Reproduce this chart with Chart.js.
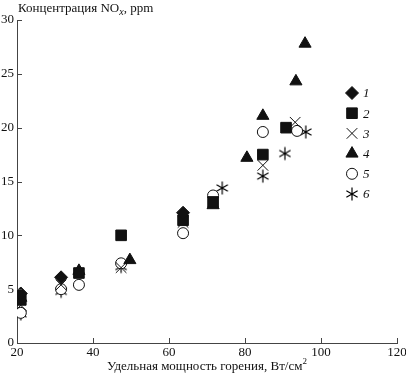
<!DOCTYPE html>
<html>
<head>
<meta charset="utf-8">
<script src="https://cdn.jsdelivr.net/npm/chart.js@4/dist/chart.umd.min.js"></script>
<style>
body{margin:0;background:#fff}
</style>
</head>
<body>
<canvas id="chart" width="406" height="375"></canvas>
<script>
// values
const seriesNames = ['1', '2', '3', '4', '5', '6'];

const s1x = [21, 31.6, 63.7];
const s1y = [4.6, 6.1, 12.1];

const s2x = [21, 36.3, 47.4, 63.7, 71.6, 84.7, 90.8];
const s2y = [4.0, 6.5, 10.0, 11.4, 13.1, 17.5, 20.0];

const s3x = [21, 31.6, 47.4, 63.7, 71.6, 84.7, 93.2];
const s3y = [3.5, 5.4, 7.0, 11.2, 13.0, 16.5, 20.5];

const s4x = [21, 36.3, 49.7, 71.6, 80.5, 84.7, 93.4, 95.8];
const s4y = [4.2, 6.7, 7.7, 12.8, 17.2, 21.1, 24.3, 27.8];

const s5x = [21, 31.6, 36.3, 47.4, 63.7, 71.6, 84.7, 93.7];
const s5y = [2.8, 5.0, 5.4, 7.4, 10.2, 13.7, 19.6, 19.7];

const s6x = [21, 31.6, 47.4, 74.0, 84.7, 90.5, 96.0];
const s6y = [2.7, 4.8, 7.1, 14.4, 15.5, 17.6, 19.6];

const xTicks = [20, 40, 60, 80, 100, 120];
const yTicks = [0, 5, 10, 15, 20, 25, 30];

const serif = "'Liberation Serif', 'DejaVu Serif', serif";
const ink = '#111';

function pts(xs, ys) {
  let out = [];
  for (let i = 0; i < xs.length; i++) out.push({x: xs[i], y: ys[i]});
  return out;
}

// six-ray asterisk marker
function makeStar() {
  let c = document.createElement('canvas');
  c.width = 16; c.height = 16;
  let g = c.getContext('2d');
  g.strokeStyle = '#000';
  g.lineWidth = 1.2;
  g.beginPath();
  for (let a of [90, 30, 150]) {
    let r = a * Math.PI / 180;
    let dx = Math.cos(r) * 6.5, dy = Math.sin(r) * 6.5;
    g.moveTo(8 - dx, 8 - dy);
    g.lineTo(8 + dx, 8 + dy);
  }
  g.stroke();
  return c;
}
const starImg = makeStar();

const styles = [
  {pointStyle: 'rectRot', radius: 6.5, bg: ink, border: ink},
  {pointStyle: 'rect', radius: 7.5, bg: ink, border: ink},
  {pointStyle: 'crossRot', radius: 7.5, bg: ink, border: ink},
  {pointStyle: 'triangle', radius: 7, bg: ink, border: ink},
  {pointStyle: 'circle', radius: 5.5, bg: '#fff', border: ink},
  {pointStyle: starImg, radius: 7, bg: ink, border: ink}
];

const allData = [pts(s1x, s1y), pts(s2x, s2y), pts(s3x, s3y), pts(s4x, s4y), pts(s5x, s5y), pts(s6x, s6y)];

let datasets = [];
for (let i = 0; i < 6; i++) {
  datasets.push({
    label: seriesNames[i],
    data: allData[i],
    pointStyle: styles[i].pointStyle,
    pointRadius: styles[i].radius,
    pointHoverRadius: styles[i].radius,
    backgroundColor: styles[i].bg,
    borderColor: styles[i].border,
    borderWidth: 1,
    showLine: false
  });
}

// inward tick marks, axis titles and the legend in the plot
const decor = {
  id: 'decor',
  afterDraw(chart) {
    const ctx = chart.ctx;
    const xs = chart.scales.x, ys = chart.scales.y;
    const area = chart.chartArea;
    ctx.save();
    ctx.strokeStyle = '#444';
    ctx.lineWidth = 1;
    ctx.beginPath();
    for (let v of xTicks) {
      let px = Math.round(xs.getPixelForValue(v)) + 0.5;
      ctx.moveTo(px, area.bottom);
      ctx.lineTo(px, area.bottom - 5);
    }
    for (let v of yTicks) {
      let py = Math.round(ys.getPixelForValue(v)) + 0.5;
      ctx.moveTo(area.left, py);
      ctx.lineTo(area.left + 5, py);
    }
    ctx.stroke();

    ctx.fillStyle = ink;
    ctx.textBaseline = 'alphabetic';
    // y title at top
    ctx.textAlign = 'left';
    ctx.font = '13px ' + serif;
    let tx = 18;
    ctx.fillText('Концентрация NO', tx, 12);
    tx += ctx.measureText('Концентрация NO').width;
    ctx.font = 'italic 10px ' + serif;
    ctx.fillText('x', tx, 15);
    tx += ctx.measureText('x').width;
    ctx.font = '13px ' + serif;
    ctx.fillText(', ppm', tx, 12);

    // x title
    const main = 'Удельная мощность горения, Вт/см';
    ctx.font = '13px ' + serif;
    let w = ctx.measureText(main).width;
    let sx = 107;
    ctx.fillText(main, sx, 370);
    ctx.font = '9px ' + serif;
    ctx.fillText('2', sx + w, 364);

    // legend
    const lx = 352, ly0 = 93, step = 20.2;
    for (let i = 0; i < 6; i++) {
      let y = ly0 + i * step;
      ctx.fillStyle = styles[i].bg;
      ctx.strokeStyle = styles[i].border;
      ctx.lineWidth = 1;
      Chart.helpers.drawPoint(ctx, {
        pointStyle: styles[i].pointStyle,
        radius: styles[i].radius,
        borderWidth: 1
      }, lx, y);
      ctx.fillStyle = ink;
      ctx.font = 'italic 13px ' + serif;
      ctx.textAlign = 'left';
      ctx.textBaseline = 'middle';
      ctx.fillText(seriesNames[i], lx + 11, y + 1);
    }
    ctx.restore();
  }
};

const chart = new Chart(document.getElementById('chart').getContext('2d'), {
  type: 'scatter',
  data: {datasets: datasets},
  options: {
    responsive: false,
    animation: false,
    layout: {padding: {top: 20, right: 9, left: 0, bottom: 0}},
    plugins: {
      legend: {display: false},
      tooltip: {enabled: false}
    },
    scales: {
      x: {
        type: 'linear',
        min: 20, max: 120,
        afterBuildTicks: (s) => { s.ticks = xTicks.map(v => ({value: v})); },
        afterFit: (s) => { s.height = 32; s.paddingLeft = 0; s.paddingRight = 0; },
        grid: {display: false, drawTicks: false},
        border: {display: true, color: '#444', width: 1},
        ticks: {font: {family: serif, size: 13}, color: ink, padding: 2, maxRotation: 0}
      },
      y: {
        min: 0, max: 30,
        afterBuildTicks: (s) => { s.ticks = yTicks.map(v => ({value: v})); },
        afterFit: (s) => { s.width = 17; s.paddingTop = 0; s.paddingBottom = 0; },
        grid: {display: false, drawTicks: false},
        border: {display: true, color: '#444', width: 1},
        ticks: {font: {family: serif, size: 13}, color: ink, padding: 3}
      }
    }
  },
  plugins: [decor]
});
</script>
</body>
</html>
